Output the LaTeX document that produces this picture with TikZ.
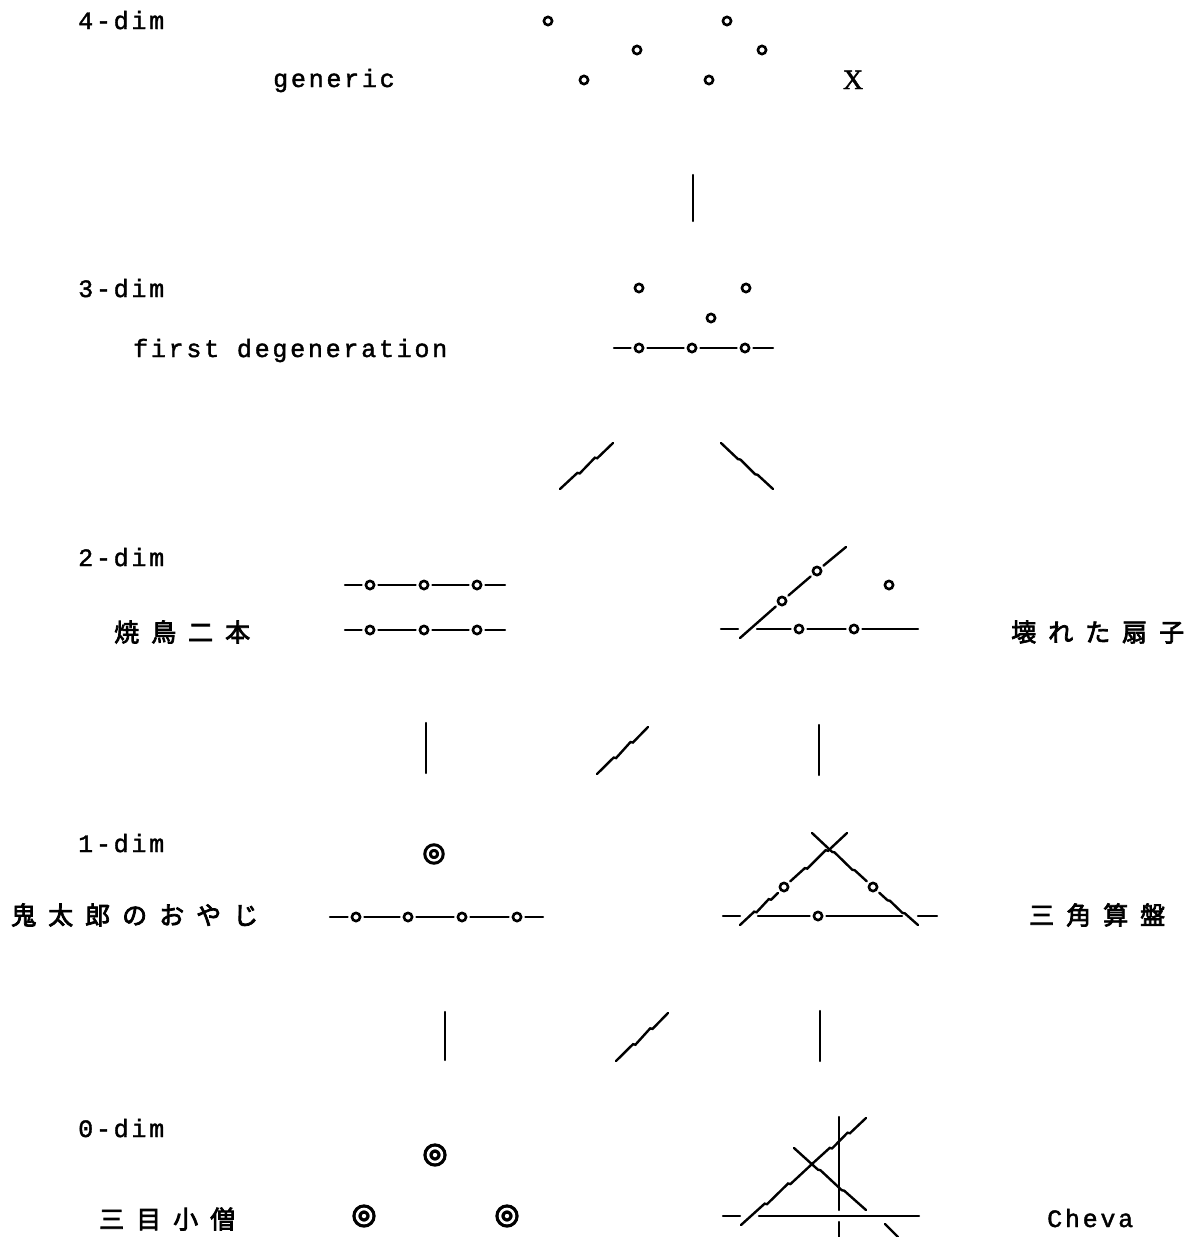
\documentclass[tikz,border=0pt]{standalone}
\usepackage{fontspec}
\usetikzlibrary{calc}
\newfontfamily\lblfont[LetterSpace=11,FakeBold=1.6]{Liberation Mono}
\newfontfamily\cjkfont[LetterSpace=48,FakeBold=3]{Noto Sans CJK JP}
\newfontfamily\xfont[FakeBold=1.5]{Liberation Serif}
\begin{document}
\begin{tikzpicture}[x=1pt,y=-1pt,
  ln/.style={line width=2.4pt, line cap=round},
  pt/.style={circle, draw, line width=2.6pt, minimum size=8.2pt, inner sep=0pt},
  dpt/.style={circle, draw, line width=3.3pt, double=white, double distance=2.6pt, minimum size=14pt, inner sep=0pt},
  dpts/.style={dpt, line width=3.1pt, double distance=2.4pt, minimum size=12.8pt},
  lbl/.style={anchor=base west, inner sep=0pt, font=\lblfont\fontsize{25}{25}\selectfont},
  cjk/.style={anchor=west, inner sep=0pt, font=\cjkfont\fontsize{25}{25}\selectfont},
  gs/.style={shorten <=3pt}, ge/.style={shorten >=3pt},
  jag/.style={to path={-- ($(\tikztostart)!.35!(\tikztotarget)+(-1.2,0)$) -- ($(\tikztostart)!.35!(\tikztotarget)+(1.2,0.5)$) -- ($(\tikztostart)!.68!(\tikztotarget)+(-1.2,0)$) -- ($(\tikztostart)!.68!(\tikztotarget)+(1.2,0.5)$) -- (\tikztotarget)}}
]
\useasboundingbox[fill=white] (0,0) rectangle (1185,1237);

% ---------- 4-dim ----------
\node[lbl] (l4) at (78,29) {4-dim};
\node[lbl] (gen) at (273,87) {generic};
\node[anchor=base, inner sep=0pt, font=\xfont\fontsize{28}{28}\selectfont] (X) at (853,89) {X};
\node[pt] (g1) at (548,21) {};
\node[pt] (g2) at (727,21) {};
\node[pt] (g3) at (637,50) {};
\node[pt] (g4) at (762,50) {};
\node[pt] (g5) at (584,80) {};
\node[pt] (g6) at (709,80) {};

\coordinate (k43a) at (693,175);
\coordinate (k43b) at (693,221);
\draw[ln] (k43a) -- (k43b);

% ---------- 3-dim ----------
\node[lbl] (l3) at (78,297) {3-dim};
\node[lbl] (fd) at (133,357) {first degeneration};
\node[pt] (t1) at (639,288) {};
\node[pt] (t2) at (746,288) {};
\node[pt] (t3) at (711,318) {};
\node[pt] (t4) at (639,348) {};
\node[pt] (t5) at (692,348) {};
\node[pt] (t6) at (745,348) {};
\coordinate (t3a) at (614,348);
\coordinate (t3b) at (773,348);
\draw[ln,ge] (t3a) -- (t4);
\draw[ln,gs,ge] (t4) -- (t5);
\draw[ln,gs,ge] (t5) -- (t6);
\draw[ln,gs] (t6) -- (t3b);

\coordinate (k32la) at (560,489);
\coordinate (k32lb) at (613,443);
\coordinate (k32ra) at (721,443);
\coordinate (k32rb) at (773,489);
\draw[ln] (k32la) to[jag] (k32lb);
\draw[ln] (k32ra) to[jag] (k32rb);

% ---------- 2-dim ----------
\node[lbl] (l2) at (78,566) {2-dim};
\node[cjk] (yaki) at (114,632) {焼鳥二本};
\node[cjk] (sensu) at (1011,632) {壊れた扇子};
% left: two rows
\foreach \r/\yy in {u/585, d/630}{
  \coordinate (y\r a) at (345,\yy);
  \coordinate (y\r b) at (505,\yy);
  \node[pt] (y\r1) at (370,\yy) {};
  \node[pt] (y\r2) at (424,\yy) {};
  \node[pt] (y\r3) at (477,\yy) {};
  \draw[ln,ge] (y\r a) -- (y\r1);
  \draw[ln,gs,ge] (y\r1) -- (y\r2);
  \draw[ln,gs,ge] (y\r2) -- (y\r3);
  \draw[ln,gs] (y\r3) -- (y\r b);
}
% right: broken fan
\node[pt] (f1) at (782,601) {};
\node[pt] (f2) at (817,571) {};
\node[pt] (f3) at (889,585) {};
\node[pt] (f4) at (799,629) {};
\node[pt] (f5) at (854,629) {};
\coordinate (fda) at (740,638);
\coordinate (fdb) at (846,547);
\draw[ln,ge] (fda) -- (f1);
\draw[ln,gs,ge] (f1) -- (f2);
\draw[ln,gs] (f2) -- (fdb);
\coordinate (fb1) at (721,629);
\coordinate (fb2) at (738,629);
\coordinate (fb3) at (757,629);
\coordinate (fb4) at (918,629);
\draw[ln] (fb1) -- (fb2);
\draw[ln,ge] (fb3) -- (f4);
\draw[ln,gs,ge] (f4) -- (f5);
\draw[ln,gs] (f5) -- (fb4);

\coordinate (k21a) at (426,723);
\coordinate (k21b) at (426,773);
\coordinate (k21c) at (597,774);
\coordinate (k21d) at (648,727);
\coordinate (k21e) at (819,725);
\coordinate (k21f) at (819,775);
\draw[ln] (k21a) -- (k21b);
\draw[ln] (k21c) to[jag] (k21d);
\draw[ln] (k21e) -- (k21f);

% ---------- 1-dim ----------
\node[lbl] (l1) at (78,852) {1-dim};
\node[cjk] (kita) at (11,915) {鬼太郎のおやじ};
\node[cjk] (soro) at (1029,915) {三角算盤};
\node[dpts] (o1) at (434,854) {};
\coordinate (oa) at (330,917);
\coordinate (ob) at (543,917);
\node[pt] (o2) at (356,917) {};
\node[pt] (o3) at (408,917) {};
\node[pt] (o4) at (462,917) {};
\node[pt] (o5) at (517,917) {};
\draw[ln,ge] (oa) -- (o2);
\draw[ln,gs,ge] (o2) -- (o3);
\draw[ln,gs,ge] (o3) -- (o4);
\draw[ln,gs,ge] (o4) -- (o5);
\draw[ln,gs] (o5) -- (ob);
% right: triangle
\node[pt] (s1) at (784,887) {};
\node[pt] (s2) at (873,887) {};
\node[pt] (s3) at (818,916) {};
\coordinate (sla) at (740,925);
\coordinate (slb) at (847,833);
\coordinate (sra) at (812,833);
\coordinate (srb) at (918,925);
\draw[ln,ge] (sla) to[jag] (s1);
\draw[ln,gs] (s1) to[jag] (slb);
\draw[ln,ge] (sra) to[jag] (s2);
\draw[ln,gs] (s2) to[jag] (srb);
\coordinate (sb1) at (723,916);
\coordinate (sb2) at (740,916);
\coordinate (sb3) at (758,916);
\coordinate (sb4) at (902,916);
\coordinate (sb5) at (918,916);
\coordinate (sb6) at (937,916);
\draw[ln] (sb1) -- (sb2);
\draw[ln,ge] (sb3) -- (s3);
\draw[ln,gs] (s3) -- (sb4);
\draw[ln] (sb5) -- (sb6);

\coordinate (k10a) at (445,1012);
\coordinate (k10b) at (445,1060);
\coordinate (k10c) at (616,1061);
\coordinate (k10d) at (668,1013);
\coordinate (k10e) at (820,1011);
\coordinate (k10f) at (820,1061);
\draw[ln] (k10a) -- (k10b);
\draw[ln] (k10c) to[jag] (k10d);
\draw[ln] (k10e) -- (k10f);

% ---------- 0-dim ----------
\node[lbl] (l0) at (78,1137) {0-dim};
\node[cjk] (kozo) at (99,1219) {三目小僧};
\node[lbl] (cheva) at (1047,1227) {Cheva};
\node[dpt] (m1) at (435,1155) {};
\node[dpt] (m2) at (364,1216) {};
\node[dpt] (m3) at (507,1216) {};
% right: Ceva configuration
\coordinate (cb1) at (723,1216);
\coordinate (cb2) at (740,1216);
\coordinate (cb3) at (759,1216);
\coordinate (cb4) at (919,1216);
\draw[ln] (cb1) -- (cb2);
\draw[ln] (cb3) -- (cb4);
\coordinate (cua) at (741,1225);
\coordinate (cux) at (812,1164);
\coordinate (cub) at (866,1118);
\draw[ln] (cua) to[jag] (cux);
\draw[ln] (cux) to[jag] (cub);
\coordinate (cda) at (794,1148);
\coordinate (cdb) at (866,1210);
\coordinate (cdc) at (885,1224);
\coordinate (cdd) at (898,1237);
\draw[ln] (cda) to[jag] (cdb);
\draw[ln] (cdc) -- (cdd);
\coordinate (cv1) at (839,1117);
\coordinate (cv2) at (839,1210);
\coordinate (cv3) at (839,1222);
\coordinate (cv4) at (839,1237);
\draw[ln] (cv1) -- (cv2);
\draw[ln] (cv3) -- (cv4);
\end{tikzpicture}
\end{document}
